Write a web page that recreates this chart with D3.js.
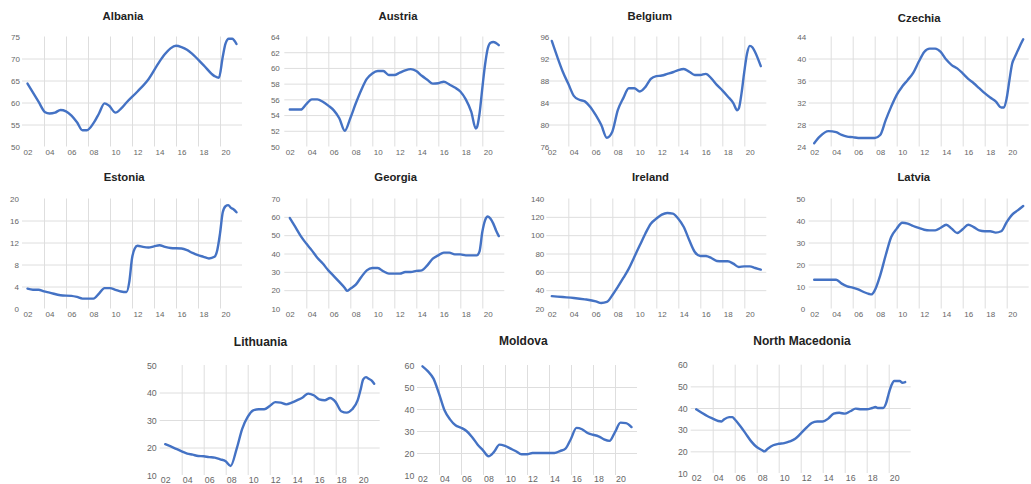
<!DOCTYPE html>
<html><head><meta charset="utf-8">
<script src="https://cdn.jsdelivr.net/npm/d3@7"></script>
<style>body{margin:0;background:#fff} svg{display:block}</style>
</head><body><svg id="c" width="1031" height="484"></svg>
<script>
// ---- data: [year, value] ----
const albania = [[2002,64.3],[2003,60.2],[2003.6,57.8],[2004,57.5],[2004.5,57.7],[2005,58.3],[2005.5,58.0],[2006,57.0],[2006.5,55.5],[2007,53.7],[2007.4,53.7],[2008,55.3],[2008.5,57.5],[2009,59.8],[2009.4,59.3],[2010,57.7],[2010.5,58.6],[2011,60.0],[2012,62.5],[2013,65.3],[2014,69.3],[2014.5,71.0],[2015,72.3],[2015.5,72.9],[2016,72.6],[2016.5,72.0],[2017,71.0],[2018,68.5],[2019,66.0],[2019.4,65.6],[2019.75,70.4],[2020,73.4],[2020.3,74.5],[2020.6,74.5],[2021,73.3]];
const austria = [[2002,54.7],[2003,54.7],[2003.5,55.4],[2004,56.0],[2004.5,56.0],[2005,55.7],[2005.5,55.2],[2006,54.6],[2006.5,53.6],[2007,52.0],[2007.5,53.6],[2008,55.5],[2008.5,57.2],[2009,58.6],[2009.5,59.3],[2010,59.6],[2010.5,59.6],[2011,59.1],[2011.5,59.1],[2012,59.4],[2012.5,59.7],[2013,59.85],[2013.5,59.6],[2014,59.0],[2014.5,58.5],[2015,58.0],[2015.5,58.05],[2016,58.25],[2016.5,57.9],[2017,57.5],[2017.5,57.0],[2018,56.0],[2018.5,54.4],[2018.9,52.3],[2019,52.4],[2019.25,54.2],[2019.5,57.4],[2019.75,60.4],[2020,62.5],[2020.25,63.2],[2020.5,63.3],[2021,62.9]];
const belgium = [[2002,95.2],[2002.5,92.3],[2003,89.6],[2003.5,87.4],[2004,85.2],[2004.5,84.5],[2005,84.2],[2005.5,83.2],[2006,81.7],[2006.5,79.9],[2007,77.6],[2007.5,78.7],[2008,82.6],[2008.5,84.8],[2009,86.6],[2009.5,86.6],[2010,86.0],[2010.5,86.8],[2011,88.3],[2011.5,88.8],[2012,88.9],[2012.5,89.2],[2013,89.5],[2013.5,89.9],[2014,90.1],[2014.5,89.6],[2015,89.0],[2015.5,89.0],[2016,89.2],[2016.5,88.4],[2017,87.2],[2017.5,86.2],[2018,85.1],[2018.5,83.9],[2018.85,82.6],[2019,82.9],[2019.25,85.7],[2019.5,89.6],[2019.75,92.9],[2020,94.3],[2020.25,94.0],[2020.5,93.1],[2021,90.6]];
const czechia = [[2002,24.6],[2002.5,25.8],[2003.3,26.8],[2004,26.6],[2004.5,26.1],[2005,25.8],[2005.5,25.7],[2006,25.55],[2007,25.55],[2007.5,25.55],[2008,26.1],[2008.5,28.8],[2009,31.25],[2009.5,33.4],[2010,34.9],[2010.5,36.1],[2011,37.4],[2011.5,39.4],[2012,41.2],[2012.5,41.8],[2013,41.8],[2013.5,41.2],[2014,39.8],[2014.5,38.8],[2015,38.2],[2015.5,37.3],[2016,36.3],[2016.5,35.5],[2017,34.6],[2017.5,33.7],[2018,32.9],[2018.5,32.2],[2019,31.1],[2019.25,31.1],[2019.5,32.8],[2019.75,36.1],[2020,39.1],[2020.25,40.3],[2020.5,41.4],[2020.75,42.5],[2021,43.5]];
const estonia = [[2002,3.6],[2002.5,3.4],[2003,3.4],[2003.5,3.1],[2004,2.9],[2005,2.4],[2006,2.3],[2006.5,2.1],[2007,1.8],[2008,1.8],[2008.5,2.7],[2009,3.7],[2009.5,3.7],[2010,3.4],[2010.5,3.1],[2011,3.0],[2011.25,4.8],[2011.5,9.1],[2011.75,10.9],[2012,11.4],[2012.5,11.2],[2013,11.1],[2013.5,11.3],[2014,11.5],[2014.5,11.2],[2015,11.0],[2016,10.9],[2016.5,10.6],[2017,10.1],[2017.5,9.7],[2018,9.4],[2018.5,9.1],[2019,9.4],[2019.25,10.6],[2019.5,13.6],[2019.75,17.5],[2020,18.6],[2020.25,18.8],[2020.5,18.3],[2020.75,18.0],[2021,17.5]];
const georgia = [[2002,59.4],[2002.5,54.5],[2003,49.5],[2003.5,45.4],[2004,41.7],[2004.5,37.7],[2005,34.5],[2005.5,30.8],[2006,27.7],[2006.5,24.5],[2007,21.2],[2007.2,19.6],[2007.5,20.8],[2008,23.0],[2008.5,27.2],[2009,30.8],[2009.5,32.1],[2010,32.1],[2010.5,30.3],[2011,29.0],[2011.5,29.0],[2012,29.0],[2012.5,29.9],[2013,29.9],[2013.5,30.5],[2014,30.8],[2014.5,33.5],[2015,37.2],[2015.5,39.0],[2016,40.5],[2016.5,40.5],[2017,39.5],[2017.5,39.5],[2018,39.0],[2018.5,39.0],[2019,39.0],[2019.25,41.2],[2019.5,51.7],[2019.75,58.1],[2020,60.2],[2020.25,59.0],[2020.5,56.3],[2020.75,52.6],[2021,49.5]];
const ireland = [[2002,33.5],[2003,32.5],[2004,31.5],[2005,30.0],[2006,27.8],[2006.5,26.0],[2007,27.1],[2007.5,34.4],[2008,43.5],[2008.5,53.3],[2009,63.5],[2009.5,76.2],[2010,88.9],[2010.5,101.6],[2011,112.5],[2011.5,118.0],[2012,122.4],[2012.5,124.2],[2013,123.5],[2013.5,118.0],[2014,108.9],[2014.5,94.4],[2015,81.6],[2015.5,77.3],[2016,77.3],[2016.5,75.1],[2017,71.8],[2017.5,71.5],[2018,71.5],[2018.5,68.9],[2019,65.3],[2019.5,66.0],[2020,66.0],[2020.5,64.2],[2021,62.4]];
const latvia = [[2002,13.1],[2003,13.1],[2004,13.1],[2004.5,11.3],[2005,10.1],[2005.5,9.5],[2006,8.7],[2006.5,7.5],[2007,6.6],[2007.2,6.4],[2007.5,8.2],[2008,15.1],[2008.5,24.2],[2009,32.5],[2009.5,36.3],[2010,39.0],[2010.5,38.6],[2011,37.5],[2011.5,36.6],[2012,35.8],[2012.5,35.5],[2013,35.5],[2013.5,36.7],[2014,38.1],[2014.5,36.3],[2015,34.3],[2015.5,36.0],[2016,38.1],[2016.5,37.0],[2017,35.5],[2017.5,35.1],[2018,35.1],[2018.5,34.5],[2019,35.1],[2019.5,39.3],[2020,42.7],[2020.5,44.6],[2021,46.6]];
const lithuania = [[2002,21.2],[2002.5,20.4],[2003,19.5],[2003.5,18.6],[2004,17.8],[2004.5,17.4],[2005,16.9],[2005.5,16.8],[2006,16.5],[2006.5,16.3],[2007,15.7],[2007.5,15.0],[2007.95,13.3],[2008.5,19.6],[2009,26.8],[2009.5,31.1],[2010,33.5],[2010.5,33.9],[2011,33.9],[2011.5,35.1],[2012,36.5],[2012.5,36.3],[2013,35.7],[2013.5,36.3],[2014,37.2],[2014.5,38.2],[2015,39.6],[2015.5,39.0],[2016,37.5],[2016.5,37.2],[2017,38.0],[2017.5,36.5],[2018,33.2],[2018.5,32.7],[2019,33.9],[2019.5,37.2],[2019.75,40.8],[2020,44.8],[2020.25,45.6],[2020.5,45.0],[2020.75,44.4],[2021,43.2]];
const moldova = [[2002,59.4],[2002.5,57.1],[2003,53.8],[2003.5,47.0],[2004,39.4],[2004.5,35.3],[2005,32.6],[2005.5,31.5],[2006,30.0],[2006.5,27.3],[2007,23.9],[2007.5,21.2],[2008,18.5],[2008.5,20.5],[2009,23.8],[2009.5,23.2],[2010,22.0],[2010.5,20.8],[2011,19.4],[2011.5,19.4],[2012,20.0],[2013,20.0],[2014,20.0],[2014.5,20.9],[2015,22.0],[2015.5,26.5],[2016,31.4],[2016.5,30.8],[2017,29.1],[2017.5,28.3],[2018,27.6],[2018.5,26.2],[2019,25.5],[2019.5,29.5],[2020,33.8],[2020.5,33.6],[2021,31.8]];
const northMacedonia = [[2002,39.4],[2002.5,37.8],[2003,36.3],[2003.5,35.1],[2004,34.0],[2004.3,33.8],[2004.5,34.6],[2005,35.8],[2005.3,35.8],[2005.5,34.8],[2006,31.7],[2006.5,28.2],[2007,24.6],[2007.5,22.0],[2008,20.5],[2008.2,20.0],[2008.5,21.2],[2009,22.8],[2009.5,23.5],[2010,23.8],[2010.5,24.6],[2011,25.8],[2011.5,28.2],[2012,30.8],[2012.5,33.1],[2013,33.8],[2013.5,33.8],[2014,35.1],[2014.5,37.4],[2015,37.8],[2015.5,37.4],[2016,38.5],[2016.5,39.7],[2017,39.4],[2017.5,39.4],[2018,40.0],[2018.3,40.5],[2018.5,40.0],[2019,40.0],[2019.25,42.0],[2019.5,46.6],[2019.75,50.5],[2020,52.5],[2020.5,52.5],[2020.75,51.7],[2021,52.0]];

const countries = ["Albania","Austria","Belgium","Czechia","Estonia","Georgia","Ireland","Latvia","Lithuania","Moldova","North Macedonia"];
const seriesList = [albania, austria, belgium, czechia, estonia, georgia, ireland, latvia, lithuania, moldova, northMacedonia];
const yDomains = [[50,75],[50,64],[76,96],[24,44],[0,20],[10,70],[20,140],[0,50],[10,50],[10,60],[10,60]];
const yTickSteps = [5,2,4,4,4,10,20,10,10,10,10];
const xTickYears = [2002,2004,2006,2008,2010,2012,2014,2016,2018,2020];

// ---- layout ----
const layout = [
 {x0:27.5, top:36.5, bottom:146.5, tx:123, ty:16.5, ts:11.3, fs:8, xl:151.7, yo:7.5},
 {x0:289.8, top:36.5, bottom:146.5, tx:398, ty:16.5, ts:11.3, fs:8, xl:151.7, yo:10},
 {x0:551.8, top:36.5, bottom:146.5, tx:649.8, ty:16.5, ts:11.3, fs:8, xl:151.7, yo:2.5},
 {x0:814.2, top:36.5, bottom:146.5, tx:919.2, ty:18.5, ts:11.3, fs:8, xl:151.7, yo:8},
 {x0:27.5, top:198.5, bottom:308.5, tx:124.2, ty:177, ts:11.3, fs:8, xl:313.7, yo:8.5},
 {x0:289.8, top:198.5, bottom:308.5, tx:395.7, ty:177, ts:11.3, fs:8, xl:313.7, yo:9.5},
 {x0:551.8, top:198.5, bottom:308.5, tx:650.5, ty:177, ts:11.3, fs:8, xl:313.7, yo:7.5},
 {x0:814.2, top:198.5, bottom:308.5, tx:913.8, ty:177, ts:11.3, fs:8, xl:313.7, yo:8.9},
 {x0:165.2, top:365, bottom:475, tx:260.5, ty:342, ts:12, fs:8.8, xl:480.3, yo:8.5},
 {x0:422.5, top:365, bottom:475, tx:523.3, ty:340.3, ts:12, fs:8.8, xl:479.3, yo:8.2},
 {x0:696.2, top:364.7, bottom:473, tx:802, ty:341, ts:12, fs:8.8, xl:477.7, yo:8.5}
];

const svg = d3.select("#c");
const FONT = "'Liberation Sans', Arial, sans-serif";

countries.forEach((name, i) => {
  const L = layout[i], data = seriesList[i], dom = yDomains[i], step = yTickSteps[i];
  const x = d3.scaleLinear().domain([2002, 2021]).range([L.x0, L.x0 + 19 * 11]);
  const y = d3.scaleLinear().domain(dom).range([L.bottom, L.top]);
  const ticks = d3.range(dom[0], dom[1] + step / 2, step);
  const g = svg.append("g");

  const gx0 = x(2001.5), gx1 = x(2021.5);
  g.append("g").attr("transform", `translate(${gx0},0)`)
    .call(d3.axisLeft(y).tickValues(ticks.slice(1, -1)).tickSize(-(gx1 - gx0)).tickFormat(""))
    .call(a => a.select(".domain").remove())
    .call(a => a.selectAll("line").attr("stroke", "#dedede").attr("stroke-width", 1));
  g.append("g").attr("transform", `translate(0,${L.bottom})`)
    .call(d3.axisBottom(x).tickValues(xTickYears.slice(1).map(v => v - 0.5)).tickSize(-(L.bottom - L.top)).tickFormat(""))
    .call(a => a.select(".domain").remove())
    .call(a => a.selectAll("line").attr("stroke", "#dedede").attr("stroke-width", 1));

  g.append("g").attr("transform", `translate(${L.x0 - L.yo},0)`)
    .call(d3.axisLeft(y).tickValues(ticks).tickSize(0).tickPadding(0))
    .call(a => a.select(".domain").remove())
    .call(a => a.selectAll("text").attr("fill", "#666").attr("font-family", FONT).attr("font-size", L.fs).attr("dy", "0.35em"));
  g.append("g").attr("transform", `translate(0,${L.xl})`)
    .call(d3.axisBottom(x).tickValues(xTickYears).tickSize(0).tickPadding(0).tickFormat(d => String(d % 100).padStart(2, "0")))
    .call(a => a.select(".domain").remove())
    .call(a => a.selectAll("text").attr("y", 0).attr("dy", "0.35em").attr("fill", "#666").attr("font-family", FONT).attr("font-size", L.fs));

  g.append("path").datum(data)
    .attr("fill", "none").attr("stroke", "#4472C4").attr("stroke-width", 2.4)
    .attr("stroke-linejoin", "round").attr("stroke-linecap", "round")
    .attr("d", d3.line().x(d => x(d[0])).y(d => y(d[1])).curve(d3.curveMonotoneX));

  g.append("text").attr("x", L.tx).attr("y", L.ty).attr("dy", "0.35em")
    .attr("text-anchor", "middle").attr("font-family", FONT).attr("font-weight", "bold")
    .attr("font-size", L.ts).attr("fill", "#222").text(name);
});
</script></body></html>
